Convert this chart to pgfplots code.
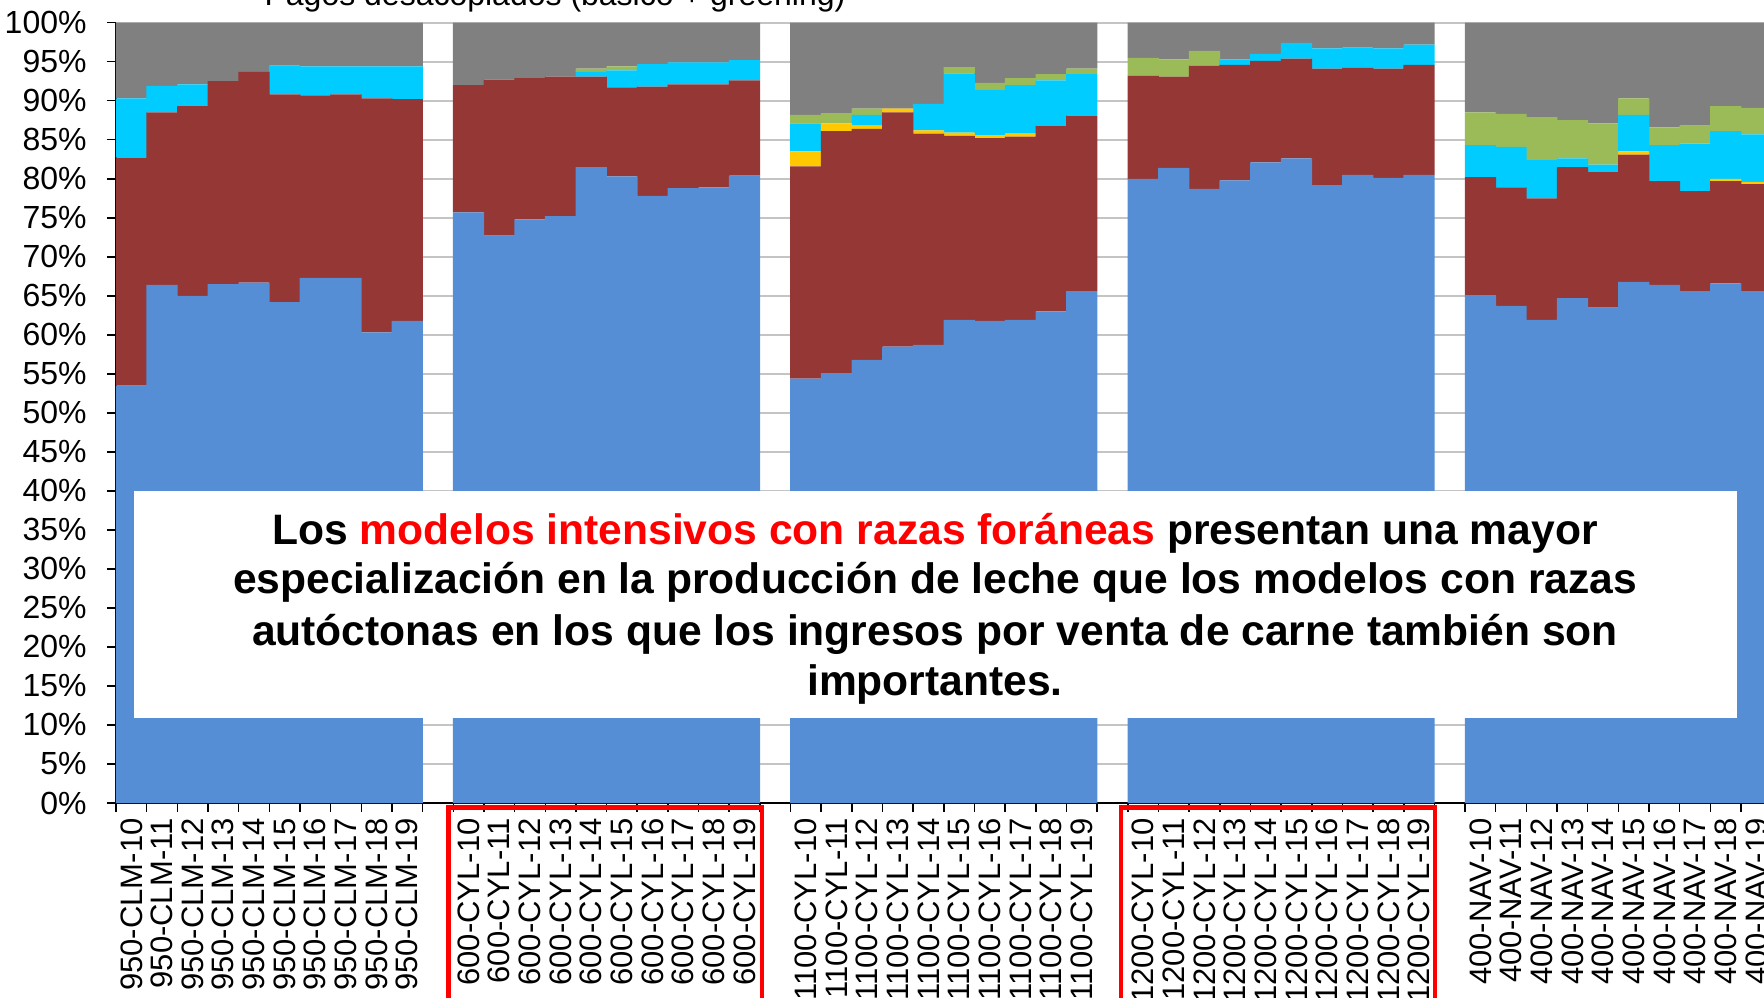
\documentclass[border=0pt]{standalone}
\usepackage{fontspec}
\setmainfont{Liberation Sans}
\usepackage{pgfplots}
\pgfplotsset{compat=1.18}
\usepackage{pgfplotstable}

\definecolor{cblue}{HTML}{558ED5}
\definecolor{cred}{HTML}{953735}
\definecolor{cyellow}{HTML}{FFC800}
\definecolor{ccyan}{HTML}{00CCFF}
\definecolor{cgreen}{HTML}{9BBB59}
\definecolor{cgray}{HTML}{808080}
\definecolor{gridgray}{HTML}{C4C4C4}

% share of income by source, one row per farm model and year (percent)
\pgfplotstableread{
x  blue red  yellow cyan green gray
0  53.5 29.2 0   7.6 0   9.7
1  66.4 22.1 0   3.4 0   8.1
2  65.0 24.3 0   2.8 0   7.9
3  66.5 26.0 0   0   0   7.5
4  66.7 27.0 0   0   0   6.3
5  64.2 26.6 0   3.7 0   5.5
6  67.3 23.4 0   3.7 0   5.6
7  67.3 23.5 0   3.6 0   5.6
8  60.3 30.0 0   4.1 0   5.6
9  61.8 28.4 0   4.2 0   5.6
11 75.7 16.3 0   0   0   8.0
12 72.7 20.0 0   0   0   7.3
13 74.8 18.1 0   0   0   7.1
14 75.2 17.9 0   0   0   6.9
15 81.5 11.6 0   0.6 0.4 5.9
16 80.3 11.4 0   2.2 0.5 5.6
17 77.8 14.0 0   2.9 0   5.3
18 78.8 13.3 0   2.8 0   5.1
19 78.9 13.2 0   2.8 0   5.1
20 80.4 12.2 0   2.6 0   4.8
22 54.4 27.2 1.9 3.6 1.1 11.8
23 55.1 31.0 1.0 0   1.3 11.6
24 56.8 29.6 0.4 1.4 0.8 11.0
25 58.5 30.0 0.5 0   0   11.0
26 58.7 27.1 0.4 3.4 0   10.4
27 61.9 23.6 0.4 7.6 0.8 5.7
28 61.8 23.4 0.4 5.8 0.9 7.7
29 61.9 23.5 0.4 6.2 0.9 7.1
30 63.0 23.8 0   5.8 0.8 6.6
31 65.6 22.5 0   5.3 0.7 5.9
33 80.0 13.2 0   0   2.3 4.5
34 81.4 11.7 0   0   2.2 4.7
35 78.7 15.8 0   0   1.9 3.6
36 79.8 14.8 0   0.7 0   4.7
37 82.1 13.0 0   0.9 0   4.0
38 82.6 12.8 0   2.0 0   2.6
39 79.2 14.9 0   2.6 0   3.3
40 80.5 13.7 0   2.6 0   3.2
41 80.1 14.0 0   2.6 0   3.3
42 80.5 14.1 0   2.6 0   2.8
44 65.1 15.1 0   4.1 4.2 11.5
45 63.7 15.2 0   5.2 4.2 11.7
46 61.9 15.6 0   4.9 5.5 12.1
47 64.7 16.8 0   1.1 4.9 12.5
48 63.5 17.4 0   0.9 5.3 12.9
49 66.8 16.3 0.4 4.7 2.1 9.7
50 66.4 13.3 0   4.6 2.3 13.4
51 65.6 12.8 0   6.1 2.3 13.2
52 66.6 13.1 0.3 6.1 3.2 10.7
53 65.6 13.7 0.3 6.1 3.4 10.9
}\shares

\begin{document}
\begin{tikzpicture}
\begin{axis}[
    at={(0pt,0pt)}, anchor=south west,
    scale only axis,
    width=824pt, height=390.15pt,
    xmin=-0.5, xmax=53.25,
    ymin=0, ymax=100,
    ybar stacked,
    bar width=1.02,
    axis lines*=left,
    axis line style={black, line width=0.75pt},
    tick align=outside,
    major tick length=4.5pt,
    minor tick length=4.5pt,
    ytick={0,5,...,100},
    yticklabels={0\%,5\%,10\%,15\%,20\%,25\%,30\%,35\%,40\%,45\%,50\%,55\%,60\%,65\%,70\%,75\%,80\%,85\%,90\%,95\%,100\%},
    ymajorgrids,
    grid style={gridgray, line width=1pt},
    ytick style={black, line width=0.75pt},
    xtick={0,...,53},
    xticklabels={950-CLM-10,950-CLM-11,950-CLM-12,950-CLM-13,950-CLM-14,950-CLM-15,950-CLM-16,950-CLM-17,950-CLM-18,950-CLM-19,{},
        600-CYL-10,600-CYL-11,600-CYL-12,600-CYL-13,600-CYL-14,600-CYL-15,600-CYL-16,600-CYL-17,600-CYL-18,600-CYL-19,{},
        1100-CYL-10,1100-CYL-11,1100-CYL-12,1100-CYL-13,1100-CYL-14,1100-CYL-15,1100-CYL-16,1100-CYL-17,1100-CYL-18,1100-CYL-19,{},
        1200-CYL-10,1200-CYL-11,1200-CYL-12,1200-CYL-13,1200-CYL-14,1200-CYL-15,1200-CYL-16,1200-CYL-17,1200-CYL-18,1200-CYL-19,{},
        400-NAV-10,400-NAV-11,400-NAV-12,400-NAV-13,400-NAV-14,400-NAV-15,400-NAV-16,400-NAV-17,400-NAV-18,400-NAV-19},
    major x tick style={draw=none},
    minor xtick={-0.5,0.5,...,53.5},
    minor x tick style={black, line width=0.75pt},
    xticklabel style={yshift=-3pt, rotate=90, anchor=east, inner sep=0pt, font=\fontsize{15.5}{18}\selectfont},
    yticklabel style={xshift=-10pt, inner sep=0pt, font=\fontsize{16}{19}\selectfont},
    /pgf/number format/assume math mode=true,
    clip=true,
]
\addplot[fill=cblue, draw=none] table[x=x, y=blue] {\shares};
\addplot[fill=cred, draw=none] table[x=x, y=red] {\shares};
\addplot[fill=cyellow, draw=none] table[x=x, y=yellow] {\shares};
\addplot[fill=ccyan, draw=none] table[x=x, y=cyan] {\shares};
\addplot[fill=cgreen, draw=none] table[x=x, y=green] {\shares};
\addplot[fill=cgray, draw=none] table[x=x, y=gray] {\shares};
\end{axis}

% boxes round the intensive models' labels
\draw[red, line width=2.2pt] (166.25pt,-2.25pt) rectangle (323pt,-140pt);
\draw[red, line width=2.2pt] (502.5pt,-2.25pt) rectangle (659.5pt,-140pt);

% message box
\fill[white] (9pt,42.65pt) rectangle (810.5pt,156pt);
\begin{scope}[every node/.style={anchor=base, inner sep=0pt, font=\fontsize{21.3}{25}\selectfont\bfseries}]
\node at (409.5pt,129.5pt) {Los \textcolor{red}{modelos intensivos con razas foráneas} presentan una mayor};
\node at (409.5pt,104.85pt) {especialización en la producción de leche que los modelos con razas};
\node at (409.5pt,79pt) {autóctonas en los que los ingresos por venta de carne también son};
\node at (409.5pt,54pt) {importantes.};
\end{scope}

% chart title, cut by the top edge of the picture
\node[anchor=base, inner sep=0pt, font=\fontsize{16}{19}\selectfont] at (219.5pt,398.5pt) {Pagos desacoplados (básico + greening)};

\pgfresetboundingbox
\useasboundingbox (-58pt,-97pt) rectangle (824pt,401.5pt);
\end{tikzpicture}
\end{document}
